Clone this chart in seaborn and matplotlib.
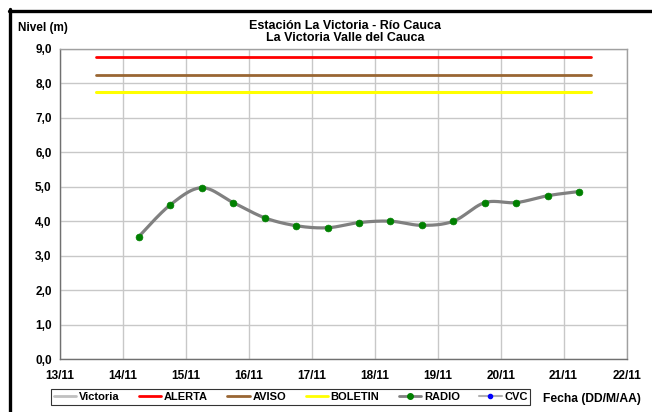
import numpy as np
import pandas as pd
import matplotlib
matplotlib.use("Agg")
import matplotlib.pyplot as plt
import matplotlib.dates as mdates
from matplotlib.lines import Line2D
from matplotlib.ticker import FuncFormatter
import seaborn as sns

# -----------------------------
# Data
# -----------------------------
radio_fecha = ["2013-11-14 06:00", "2013-11-14 18:00", "2013-11-15 06:00",
               "2013-11-15 18:00", "2013-11-16 06:00", "2013-11-16 18:00",
               "2013-11-17 06:00", "2013-11-17 18:00", "2013-11-18 06:00",
               "2013-11-18 18:00", "2013-11-19 06:00", "2013-11-19 18:00",
               "2013-11-20 06:00", "2013-11-20 18:00", "2013-11-21 06:00"]
radio_nivel = [3.55, 4.47, 4.97, 4.54, 4.10, 3.87, 3.81, 3.96, 4.00,
               3.88, 4.00, 4.54, 4.54, 4.74, 4.86]

umbral_fecha = ["2013-11-13 13:45", "2013-11-21 10:30"]
alerta = [8.75, 8.75]
aviso = [8.25, 8.25]
boletin = [7.75, 7.75]

x_ticks = ["2013-11-13", "2013-11-14", "2013-11-15", "2013-11-16", "2013-11-17",
           "2013-11-18", "2013-11-19", "2013-11-20", "2013-11-21", "2013-11-22"]
y_ticks = [0, 1, 2, 3, 4, 5, 6, 7, 8, 9]

titulo = "Estación La Victoria - Río Cauca\nLa Victoria Valle del Cauca"

# -----------------------------
# Style
# -----------------------------
sns.set_style("white")
plt.rcParams["font.family"] = ["Liberation Sans", "DejaVu Sans"]
plt.rcParams["font.weight"] = "bold"
plt.rcParams["text.color"] = "black"


def smooth_line(x, y, n=24):
    # Excel-like smoothed line (Catmull-Rom) through the data points
    pts = np.column_stack([x, y])
    p = np.vstack([pts[0], pts, pts[-1]])
    t = np.linspace(0, 1, n, endpoint=False)[:, None]
    segs = []
    for i in range(1, len(p) - 2):
        p0, p1, p2, p3 = p[i - 1], p[i], p[i + 1], p[i + 2]
        segs.append(0.5 * (2 * p1 + (-p0 + p2) * t
                           + (2 * p0 - 5 * p1 + 4 * p2 - p3) * t ** 2
                           + (-p0 + 3 * p1 - 3 * p2 + p3) * t ** 3))
    segs.append(pts[-1:])
    return np.vstack(segs)


df = pd.DataFrame({"fecha": pd.to_datetime(radio_fecha), "nivel": radio_nivel})
df["x"] = mdates.date2num(df["fecha"])
curve = smooth_line(df["x"].values, df["nivel"].values)
df_curve = pd.DataFrame({"x": curve[:, 0], "nivel": curve[:, 1]})

um = pd.DataFrame({"x": mdates.date2num(pd.to_datetime(umbral_fecha)),
                   "alerta": alerta, "aviso": aviso, "boletin": boletin})

fig = plt.figure(figsize=(6.52, 4.12), dpi=100)
ax = fig.add_axes([0.092, 0.128, 0.869, 0.754])

sns.lineplot(x="x", y="alerta", data=um, color="#ff0000", lw=2, ax=ax)
sns.lineplot(x="x", y="aviso", data=um, color="#996633", lw=2, ax=ax)
sns.lineplot(x="x", y="boletin", data=um, color="#ffff00", lw=2.2, ax=ax)
sns.lineplot(x="x", y="nivel", data=df_curve, sort=False, color="#808080",
             lw=2.3, ax=ax)
sns.scatterplot(x="x", y="nivel", data=df, color="#008000", s=24,
                edgecolor="#008000", linewidth=0.5, zorder=5, ax=ax)

xt = mdates.date2num(pd.to_datetime(x_ticks))
ax.set_xlim(xt[0], xt[-1])
ax.set_ylim(y_ticks[0], y_ticks[-1])
ax.set_xticks(xt)
ax.set_xticklabels([d.strftime("%d/%m") for d in pd.to_datetime(x_ticks)])
ax.set_yticks(y_ticks)
ax.yaxis.set_major_formatter(FuncFormatter(lambda v, p: f"{v:.1f}".replace(".", ",")))
ax.grid(True, color="#c8c8c8", lw=1)
ax.set_xlabel("")
ax.set_ylabel("")
ax.tick_params(axis="both", labelsize=8.5, length=3, width=1, color="#808080",
               labelcolor="black", direction="out", pad=3)
ax.tick_params(axis="x", pad=5)
for lab in ax.get_xticklabels() + ax.get_yticklabels():
    lab.set_fontweight("bold")
for s in ax.spines.values():
    s.set_color("#a0a0a0")
    s.set_linewidth(1)
ax.spines["left"].set_color("#707070")
ax.spines["bottom"].set_color("#707070")

fig.text(0.529, 0.922, titulo, ha="center", va="center", fontsize=9,
         fontweight="bold", linespacing=1.0)
fig.text(0.027, 0.932, "Nivel (m)", ha="left", va="center", fontsize=8.5,
         fontweight="bold")
fig.text(0.833, 0.031, "Fecha (DD/M/AA)", ha="left", va="center", fontsize=8.7,
         fontweight="bold")

# frame of the original image (top and left edges)
fig.add_artist(Line2D([0.014, 1], [0.974, 0.974], color="black", lw=2.4,
                      transform=fig.transFigure))
fig.add_artist(Line2D([0.016, 0.016], [0, 0.977], color="black", lw=2.4,
                      transform=fig.transFigure))

handles = [
    Line2D([], [], color="#c0c0c0", lw=2),
    Line2D([], [], color="#ff0000", lw=2),
    Line2D([], [], color="#996633", lw=2),
    Line2D([], [], color="#ffff00", lw=2),
    Line2D([], [], color="#808080", lw=2, marker="o", markersize=4,
           markerfacecolor="#008000", markeredgecolor="#008000"),
    Line2D([], [], color="#b0b0b0", lw=1.5, marker="o", markersize=3,
           markerfacecolor="#0000ff", markeredgecolor="#0000ff"),
]
labels = ["Victoria", "ALERTA", "AVISO", "BOLETIN", "RADIO", "CVC"]
leg = fig.legend(handles, labels, loc="center", bbox_to_anchor=(0.446, 0.037),
                 ncol=6, frameon=True, fancybox=False,
                 handlelength=2, handletextpad=0.25, columnspacing=1.75,
                 borderpad=0.25, prop={"weight": "bold", "size": 8})
leg.get_frame().set_edgecolor("black")
leg.get_frame().set_linewidth(0.8)

fig.savefig("out.png", dpi=100)
